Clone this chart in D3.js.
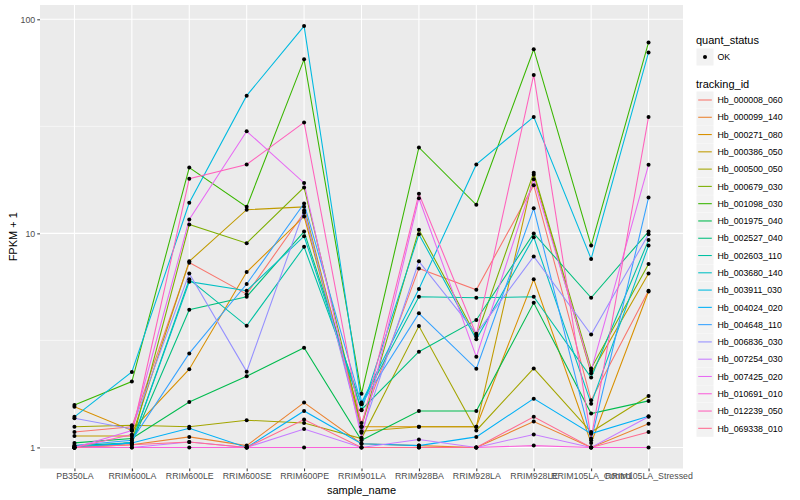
<!DOCTYPE html>
<meta charset="utf-8">
<script src="https://d3js.org/d3.v7.min.js"></script>
<style>
  body { margin: 0; background: #fff; }
  text { font-family: "Liberation Sans", Arial, sans-serif; }
</style>
<div id="my_dataviz"></div>
<script>

// samples on the x axis
var samples = ["PB350LA", "RRIM600LA", "RRIM600LE", "RRIM600SE", "RRIM600PE", "RRIM901LA",
               "RRIM928BA", "RRIM928LA", "RRIM928LE", "RRIM105LA_Control", "RRIM105LA_Stressed"];

var trackingIds = ["Hb_000008_060", "Hb_000099_140", "Hb_000271_080", "Hb_000386_050", "Hb_000500_050",
                   "Hb_000679_030", "Hb_001098_030", "Hb_001975_040", "Hb_002527_040", "Hb_002603_110",
                   "Hb_003680_140", "Hb_003911_030", "Hb_004024_020", "Hb_004648_110", "Hb_006836_030",
                   "Hb_007254_030", "Hb_007425_020", "Hb_010691_010", "Hb_012239_050", "Hb_069338_010"];

// FPKM + 1, one array per tracking_id, in sample order
var hb_000008_060 = [1.18, 1.25, 7.3, 5.2, 12.5, 1.3, 6.86, 5.45, 16.8, 1.66, 5.4];
var hb_000099_140 = [1.0, 1.03, 1.12, 1.02, 1.62, 1.04, 1.02, 1.0, 1.32, 1.0, 1.29];
var hb_000271_080 = [1.55, 1.2, 2.32, 6.6, 12.0, 1.25, 1.25, 1.25, 6.1, 1.05, 5.35];
var hb_000386_050 = [1.13, 1.13, 7.4, 12.9, 13.3, 1.19, 1.25, 1.25, 18.8, 2.22, 6.5];
var hb_000500_050 = [1.25, 1.27, 1.25, 1.34, 1.3, 1.1, 3.69, 1.2, 2.34, 1.18, 1.74];
var hb_000679_030 = [1.0, 1.05, 11.0, 9.0, 16.4, 1.25, 10.4, 3.3, 19.2, 2.34, 7.2];
var hb_001098_030 = [1.58, 2.03, 20.3, 13.3, 65.0, 1.78, 25.2, 13.6, 72.5, 8.77, 78.0];
var hb_001975_040 = [1.05, 1.1, 1.63, 2.15, 2.92, 1.08, 1.48, 1.48, 4.74, 1.44, 1.65];
var hb_002527_040 = [1.02, 1.05, 4.4, 5.06, 10.2, 1.5, 2.8, 3.94, 10.0, 5.0, 10.2];
var hb_002603_110 = [1.0, 1.05, 6.1, 3.7, 8.65, 1.6, 5.06, 5.0, 5.06, 2.12, 9.3];
var hb_003680_140 = [1.0, 1.05, 5.95, 5.4, 9.7, 1.49, 9.9, 3.2, 9.6, 1.6, 8.77];
var hb_003911_030 = [1.39, 2.25, 13.9, 44.0, 93.0, 1.62, 5.5, 21.0, 35.0, 7.6, 70.0];
var hb_004024_020 = [1.0, 1.05, 1.23, 1.0, 1.48, 1.04, 1.02, 1.12, 1.69, 1.16, 1.4];
var hb_004648_110 = [1.02, 1.08, 2.75, 5.8, 13.8, 1.59, 4.23, 2.33, 13.1, 1.08, 14.7];
var hb_006836_030 = [1.37, 1.22, 6.5, 2.26, 12.8, 1.17, 7.4, 3.4, 7.8, 3.37, 9.9];
var hb_007254_030 = [1.0, 1.0, 1.06, 1.0, 1.22, 1.0, 1.09, 1.0, 1.15, 1.0, 1.39];
var hb_007425_020 = [1.0, 1.2, 11.6, 30.0, 17.2, 1.11, 14.6, 2.65, 17.9, 2.28, 20.9];
var hb_010691_010 = [1.0, 1.0, 1.0, 1.0, 1.0, 1.0, 1.0, 1.0, 1.02, 1.0, 1.0];
var hb_012239_050 = [1.0, 1.15, 18.0, 21.0, 33.0, 1.25, 15.3, 3.36, 55.0, 1.1, 35.0];
var hb_069338_010 = [1.0, 1.03, 1.06, 1.0, 1.35, 1.0, 1.0, 1.0, 1.39, 1.0, 1.18];

var values = [hb_000008_060, hb_000099_140, hb_000271_080, hb_000386_050, hb_000500_050,
              hb_000679_030, hb_001098_030, hb_001975_040, hb_002527_040, hb_002603_110,
              hb_003680_140, hb_003911_030, hb_004024_020, hb_004648_110, hb_006836_030,
              hb_007254_030, hb_007425_020, hb_010691_010, hb_012239_050, hb_069338_010];

var yTicks = [1, 10, 100];

// ggplot default hue palette for 20 levels
var colors = ["#F8766D", "#EA8331", "#D89000", "#C09B00", "#A3A500", "#7CAE00", "#39B600", "#00BB4E",
              "#00BF7D", "#00C1A3", "#00BFC4", "#00BAE0", "#00B0F6", "#35A2FF", "#9590FF", "#C77CFF",
              "#E76BF3", "#FA62DB", "#FF62BC", "#FF6C91"];

var width = 800, height = 500;
var panel = {left: 40, right: 683, top: 5, bottom: 468.5};

var svg = d3.select("#my_dataviz")
  .append("svg")
    .attr("width", width)
    .attr("height", height);

// scales
var x = d3.scalePoint()
  .domain(samples)
  .range([panel.left, panel.right])
  .padding(0.6);

var allVals = values.flat();
var lo = Math.log10(d3.min(allVals)), hi = Math.log10(d3.max(allVals));
var pad = (hi - lo) * 0.05;
var y = d3.scaleLog()
  .domain([Math.pow(10, lo - pad), Math.pow(10, hi + pad)])
  .range([panel.bottom, panel.top]);

var color = d3.scaleOrdinal().domain(trackingIds).range(colors);

// panel background + grid
svg.append("rect")
  .attr("x", panel.left).attr("y", panel.top)
  .attr("width", panel.right - panel.left)
  .attr("height", panel.bottom - panel.top)
  .attr("fill", "#EBEBEB");

var minor = [Math.pow(10, 0.5), Math.pow(10, 1.5)];
svg.selectAll(".minor")
  .data(minor)
  .enter().append("line")
    .attr("x1", panel.left).attr("x2", panel.right)
    .attr("y1", function(d) { return y(d); })
    .attr("y2", function(d) { return y(d); })
    .attr("stroke", "#fff").attr("stroke-width", 0.55);

svg.selectAll(".hmajor")
  .data(yTicks)
  .enter().append("line")
    .attr("x1", panel.left).attr("x2", panel.right)
    .attr("y1", function(d) { return y(d); })
    .attr("y2", function(d) { return y(d); })
    .attr("stroke", "#fff").attr("stroke-width", 1.07);

svg.selectAll(".vmajor")
  .data(samples)
  .enter().append("line")
    .attr("x1", function(d) { return x(d); })
    .attr("x2", function(d) { return x(d); })
    .attr("y1", panel.top).attr("y2", panel.bottom)
    .attr("stroke", "#fff").attr("stroke-width", 1.07);

// axes
var yAxis = svg.append("g")
  .attr("transform", "translate(" + panel.left + ",0)")
  .call(d3.axisLeft(y).tickValues(yTicks).tickFormat(d3.format("d")).tickSize(2.75).tickPadding(2));
var xAxis = svg.append("g")
  .attr("transform", "translate(0," + panel.bottom + ")")
  .call(d3.axisBottom(x).tickSize(2.75).tickPadding(2));

[xAxis, yAxis].forEach(function(g) {
  g.select(".domain").remove();
  g.selectAll(".tick line").attr("stroke", "#333333");
  g.selectAll(".tick text")
    .attr("fill", "#4D4D4D")
    .style("font-size", "8.8px")
    .style("font-family", "'Liberation Sans', Arial, sans-serif");
});

// lines
var line = d3.line()
  .x(function(d, i) { return x(samples[i]); })
  .y(function(d) { return y(d); });

svg.selectAll(".series")
  .data(values)
  .enter().append("path")
    .attr("d", line)
    .attr("fill", "none")
    .attr("stroke", function(d, i) { return color(trackingIds[i]); })
    .attr("stroke-width", 1.07);

// points
var pts = [];
values.forEach(function(s) {
  s.forEach(function(v, i) { pts.push({sample: samples[i], v: v}); });
});
svg.selectAll(".pt")
  .data(pts)
  .enter().append("circle")
    .attr("cx", function(d) { return x(d.sample); })
    .attr("cy", function(d) { return y(d.v); })
    .attr("r", 2)
    .attr("fill", "#000");

// axis titles
svg.append("text")
  .attr("x", (panel.left + panel.right) / 2)
  .attr("y", 494)
  .attr("text-anchor", "middle")
  .style("font-size", "11px")
  .text("sample_name");

svg.append("text")
  .attr("transform", "translate(17," + ((panel.top + panel.bottom) / 2) + ")rotate(-90)")
  .attr("text-anchor", "middle")
  .style("font-size", "11px")
  .text("FPKM + 1");

// legend
var lg = svg.append("g").attr("transform", "translate(696,0)");

lg.append("text").attr("x", 0).attr("y", 44).style("font-size", "11px").text("quant_status");
lg.append("rect").attr("x", 0.5).attr("y", 48.5).attr("width", 17).attr("height", 17).attr("fill", "#F2F2F2");
lg.append("circle").attr("cx", 9).attr("cy", 57).attr("r", 2).attr("fill", "#000");
lg.append("text").attr("x", 21.5).attr("y", 60.2).style("font-size", "8.8px").text("OK");

lg.append("text").attr("x", 0).attr("y", 88).style("font-size", "11px").text("tracking_id");

var keys = lg.selectAll(".key")
  .data(trackingIds)
  .enter().append("g")
    .attr("transform", function(d, i) { return "translate(0," + (100 + i * 17.28) + ")"; });
keys.append("rect")
  .attr("x", 0.5).attr("y", -8.5).attr("width", 17).attr("height", 17)
  .attr("fill", "#F2F2F2");
keys.append("line")
  .attr("x1", 2.2).attr("x2", 15.8).attr("y1", 0).attr("y2", 0)
  .attr("stroke", function(d) { return color(d); })
  .attr("stroke-width", 1.07);
keys.append("text")
  .attr("x", 21.5).attr("y", 3.2)
  .style("font-size", "8.8px")
  .text(function(d) { return d; });

</script>
